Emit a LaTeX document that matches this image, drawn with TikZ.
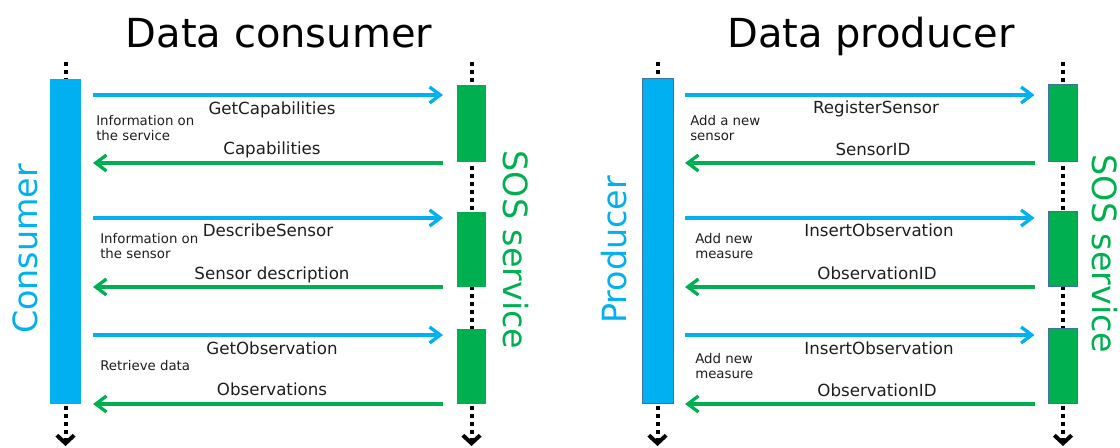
\documentclass[tikz,border=0pt]{standalone}
\usepackage{fontspec}
\setmainfont{DejaVu Sans}
\usetikzlibrary{arrows.meta}

\definecolor{sosblue}{HTML}{00B0F0}
\definecolor{sosgreen}{HTML}{00B050}
\definecolor{edgeblue}{HTML}{41719C}
\definecolor{inktext}{HTML}{1E1E1E}

\tikzset{
  bar/.style={fill=sosblue, inner sep=0pt, outer sep=0pt, minimum width=23.25pt, minimum height=243.75pt},
  box/.style={fill=sosgreen, inner sep=0pt, outer sep=0pt, minimum width=21.75pt},
  edged/.style={draw=edgeblue, line width=0.75pt},
  req/.style={draw=sosblue, line width=2.5pt, -{Straight Barb[length=8pt,width=12pt]}, shorten <=9pt, shorten >=10.5pt},
  resp/.style={draw=sosgreen, line width=2.5pt, -{Straight Barb[length=8pt,width=12pt]}, shorten <=10.5pt, shorten >=9pt},
  lifeline/.style={line width=3pt, dash pattern=on 3pt off 3pt, -{Straight Barb[length=6pt,width=13pt]}},
  msg/.style={anchor=base, inner sep=0pt, text=inktext, font=\fontsize{12.5}{15}\selectfont},
  note/.style={anchor=base west, inner sep=0pt, align=left, text=inktext, font=\fontsize{10}{11.25}\selectfont},
  heading/.style={anchor=base, inner sep=0pt, font=\fontsize{30}{36}\selectfont},
  role/.style={anchor=base, inner sep=0pt, font=\fontsize{25}{30}\selectfont},
}

\begin{document}
\begin{tikzpicture}[x=0.75pt,y=0.75pt,yscale=-1,xscale=1]
\useasboundingbox (0,0) rectangle (1120,448);

% message levels
\coordinate (m1) at (0,95);
\coordinate (m2) at (0,163);
\coordinate (m3) at (0,218);
\coordinate (m4) at (0,287);
\coordinate (m5) at (0,335);
\coordinate (m6) at (0,404);

%% Data consumer
% lifelines
\coordinate (ctop) at (65.5,62);
\coordinate (cend) at (65.5,446);
\coordinate (stop) at (471.5,62);
\coordinate (send) at (471.5,446);
\draw[lifeline] (ctop) -- (cend);
\draw[lifeline] (stop) -- (send);

\node[bar] (cons) at (65.5,241.5) {};
\node[box, minimum height=57.75pt] (s1) at (471.5,123.5) {};
\node[box, minimum height=56.25pt] (s2) at (471.5,249.5) {};
\node[box, minimum height=56.25pt] (s3) at (471.5,366.5) {};

\draw[req] (cons.east |- m1) -- (s1.west |- m1);
\draw[resp] (s1.west |- m2) -- (cons.east |- m2);
\draw[req] (cons.east |- m3) -- (s2.west |- m3);
\draw[resp] (s2.west |- m4) -- (cons.east |- m4);
\draw[req] (cons.east |- m5) -- (s3.west |- m5);
\draw[resp] (s3.west |- m6) -- (cons.east |- m6);

% Text Node
\node[heading] (tcons) at (279,48) {Data consumer};
\node[role, text=sosblue, rotate=90] (lcons) at (37,249) {Consumer};
\node[role, text=sosgreen, rotate=-90] (lsos1) at (503,250) {SOS service};

\node[msg] (getcap) at (272,115) {GetCapabilities};
\node[note] (ncap) at (96,141) {Information on\\the service};
\node[msg] (cap) at (272,155) {Capabilities};
\node[msg] (descr) at (268,237) {DescribeSensor};
\node[note] (ndescr) at (100,259) {Information on\\the sensor};
\node[msg] (sdescr) at (272,280) {Sensor description};
\node[msg] (getobs) at (272,355) {GetObservation};
\node[note] (nobs) at (100,371) {Retrieve data};
\node[msg] (obs) at (272,396) {Observations};

%% Data producer
% lifelines
\coordinate (ptop) at (657.5,62);
\coordinate (pend) at (657.5,446);
\coordinate (qtop) at (1063,62);
\coordinate (qend) at (1063,446);
\draw[lifeline] (ptop) -- (pend);
\draw[lifeline] (qtop) -- (qend);

\node[bar, edged] (prod) at (657.5,241.5) {};
\node[box, edged, minimum height=57.75pt] (q1) at (1063,123.5) {};
\node[box, edged, minimum height=56.25pt] (q2) at (1063,249.5) {};
\node[box, edged, minimum height=56.25pt] (q3) at (1063,366.5) {};

\draw[req] (prod.east |- m1) -- (q1.west |- m1);
\draw[resp] (q1.west |- m2) -- (prod.east |- m2);
\draw[req] (prod.east |- m3) -- (q2.west |- m3);
\draw[resp] (q2.west |- m4) -- (prod.east |- m4);
\draw[req] (prod.east |- m5) -- (q3.west |- m5);
\draw[resp] (q3.west |- m6) -- (prod.east |- m6);

% Text Node
\node[heading] (tprod) at (871,48) {Data producer};
\node[role, text=sosblue, rotate=90] (lprod) at (626,250) {Producer};
\node[role, text=sosgreen, rotate=-90] (lsos2) at (1092,254) {SOS service};

\node[msg] (reg) at (876,114) {RegisterSensor};
\node[note] (nreg) at (690,141) {Add a new\\sensor};
\node[msg] (sid) at (873,156) {SensorID};
\node[msg] (ins1) at (879,237) {InsertObservation};
\node[note] (nins1) at (695,259) {Add new\\measure};
\node[msg] (oid1) at (877,280) {ObservationID};
\node[msg] (ins2) at (879,355) {InsertObservation};
\node[note] (nins2) at (695,379) {Add new\\measure};
\node[msg] (oid2) at (877,397) {ObservationID};

\end{tikzpicture}
\end{document}
